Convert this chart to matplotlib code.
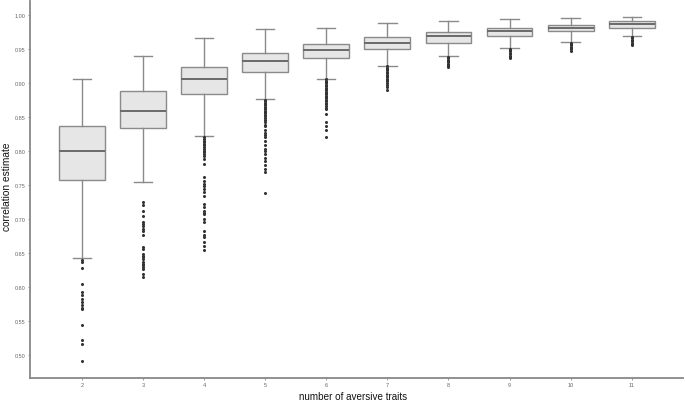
import matplotlib
matplotlib.use("Agg")
import matplotlib.pyplot as plt

plt.rcParams['font.family'] = ['Liberation Sans', 'DejaVu Sans']

traits = [2, 3, 4, 5, 6, 7, 8, 9, 10, 11]
whisk_lo = [0.643, 0.754, 0.822, 0.876, 0.906, 0.925, 0.939, 0.951, 0.960, 0.968]
q1       = [0.758, 0.834, 0.883, 0.916, 0.936, 0.950, 0.959, 0.968, 0.976, 0.980]
medians  = [0.800, 0.858, 0.906, 0.932, 0.948, 0.959, 0.968, 0.976, 0.981, 0.986]
q3       = [0.836, 0.888, 0.923, 0.943, 0.957, 0.967, 0.974, 0.980, 0.985, 0.990]
whisk_hi = [0.906, 0.939, 0.966, 0.979, 0.981, 0.988, 0.990, 0.993, 0.995, 0.996]

out_2 = [0.640, 0.637, 0.628, 0.605, 0.593, 0.588, 0.583, 0.578, 0.574, 0.570,
         0.568, 0.545, 0.523, 0.517, 0.491]
out_3 = [0.725, 0.720, 0.712, 0.705, 0.695, 0.693, 0.690, 0.685, 0.683, 0.676,
         0.659, 0.656, 0.649, 0.646, 0.644, 0.641, 0.637, 0.634, 0.632, 0.629,
         0.627, 0.619, 0.615]
out_4 = [0.820, 0.818, 0.815, 0.813, 0.810, 0.808, 0.805, 0.803, 0.800, 0.798,
         0.795, 0.793, 0.788, 0.781, 0.761, 0.756, 0.751, 0.749, 0.744, 0.739,
         0.734, 0.722, 0.717, 0.712, 0.709, 0.707, 0.700, 0.695, 0.683, 0.676,
         0.673, 0.666, 0.661, 0.654]
out_5 = [0.875, 0.873, 0.871, 0.869, 0.867, 0.865, 0.863, 0.861, 0.859, 0.857,
         0.855, 0.853, 0.851, 0.848, 0.845, 0.842, 0.838, 0.836, 0.831, 0.826,
         0.823, 0.820, 0.815, 0.808, 0.803, 0.800, 0.795, 0.790, 0.785, 0.780,
         0.774, 0.769, 0.738]
out_6 = [0.905, 0.903, 0.901, 0.899, 0.897, 0.895, 0.893, 0.891, 0.889, 0.887,
         0.885, 0.883, 0.881, 0.879, 0.877, 0.875, 0.873, 0.871, 0.869, 0.866,
         0.863, 0.861, 0.854, 0.842, 0.837, 0.830, 0.820]
out_7 = [0.924, 0.922, 0.920, 0.918, 0.916, 0.914, 0.912, 0.910, 0.908, 0.906,
         0.904, 0.902, 0.900, 0.897, 0.894, 0.890]
out_8 = [0.938, 0.936, 0.934, 0.932, 0.930, 0.928, 0.926, 0.924, 0.923]
out_9 = [0.950, 0.948, 0.946, 0.944, 0.942, 0.940, 0.938, 0.936]
out_10 = [0.959, 0.957, 0.955, 0.953, 0.951, 0.949, 0.947]
out_11 = [0.967, 0.965, 0.963, 0.961, 0.959, 0.957, 0.956]
outliers = [out_2, out_3, out_4, out_5, out_6, out_7, out_8, out_9, out_10, out_11]

stats = []
for i, t in enumerate(traits):
    stats.append(dict(label=str(t), whislo=whisk_lo[i], q1=q1[i], med=medians[i],
                      q3=q3[i], whishi=whisk_hi[i], fliers=outliers[i]))

fig = plt.figure(figsize=(6.85, 4.02), dpi=100)
ax = fig.add_axes([30/685, 1-379/402, 653/685, 377/402])

edge = '#8a8a8a'
ax.bxp(stats, positions=traits, widths=0.75, capwidths=0.3, patch_artist=True,
       boxprops=dict(facecolor='#e6e6e6', edgecolor=edge, linewidth=1.0),
       medianprops=dict(color='#6a6a6a', linewidth=1.4),
       whiskerprops=dict(color=edge, linewidth=1.0),
       capprops=dict(color=edge, linewidth=1.0),
       flierprops=dict(marker='o', markersize=1.2, markerfacecolor='#333333',
                       markeredgecolor='#333333', linestyle='none'))

ax.set_xlim(1.15, 11.84)
ax.set_ylim(0.4667, 1.02)
ax.set_yticks([0.50, 0.55, 0.60, 0.65, 0.70, 0.75, 0.80, 0.85, 0.90, 0.95, 1.00])
ax.set_yticklabels(['0.50', '0.55', '0.60', '0.65', '0.70', '0.75', '0.80',
                    '0.85', '0.90', '0.95', '1.00'])
ax.set_xticks(traits)
ax.set_xticklabels([str(t) for t in traits])
ax.tick_params(axis='both', labelsize=4.0, colors='#888888', labelcolor='#666666',
               length=1.5, width=0.6, pad=1.5)

for s in ['top', 'right']:
    ax.spines[s].set_visible(False)
for s in ['left', 'bottom']:
    ax.spines[s].set_color('#888888')
    ax.spines[s].set_linewidth(1.3)

ax.set_xlabel('number of aversive traits', fontsize=7.1, color='#111111')
ax.set_ylabel('correlation estimate', fontsize=7.3, color='#111111')
ax.xaxis.label.set_va('center')
ax.yaxis.label.set_va('center')
ax.xaxis.set_label_coords((353 - 30) / 653, (379 - 397) / 377)
ax.yaxis.set_label_coords((7 - 30) / 653, (379 - 186.5) / 377)

fig.savefig('out.png', dpi=100)
